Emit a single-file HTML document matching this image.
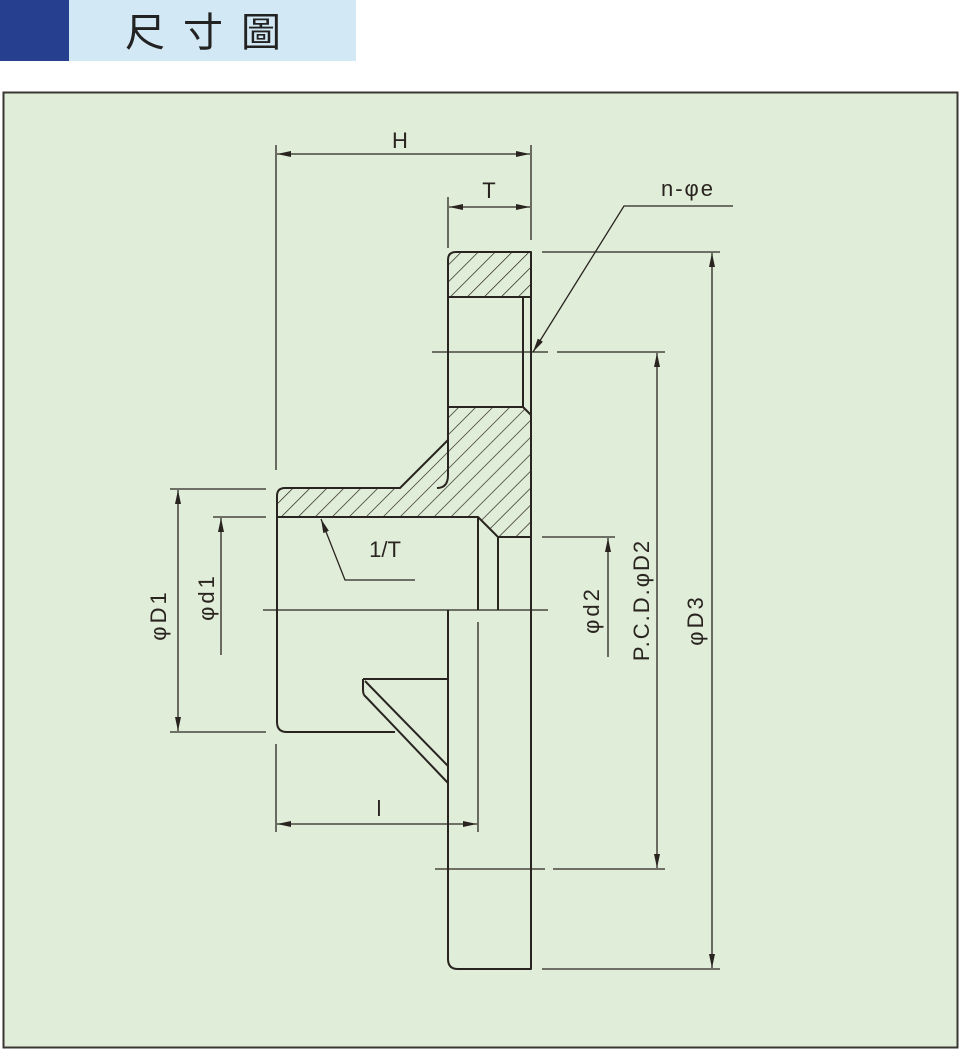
<!DOCTYPE html>
<html><head><meta charset="utf-8"><style>
html,body{margin:0;padding:0;background:#fff;width:960px;height:1050px;overflow:hidden}
</style></head><body>
<svg width="960" height="1050" viewBox="0 0 960 1050" xmlns="http://www.w3.org/2000/svg" style="display:block">
<defs>
<pattern id="h" patternUnits="userSpaceOnUse" width="12" height="12" patternTransform="rotate(45)">
<line x1="0" y1="0" x2="0" y2="12" stroke="#2a2420" stroke-width="1.4"/>
</pattern>
<marker id="a" viewBox="0 0 14 6" refX="14" refY="3" markerWidth="14" markerHeight="6" markerUnits="userSpaceOnUse" orient="auto-start-reverse">
<path d="M0,0 L14,3 L0,6 Z" fill="#2a2420"/>
</marker>
</defs>
<rect x="0" y="0" width="69" height="61" fill="#263f8f"/>
<rect x="69" y="0" width="287" height="61" fill="#d3e8f5"/>
<text x="212" y="46" font-family="'Liberation Sans','Noto Sans CJK TC',sans-serif" font-size="40" fill="#222" text-anchor="middle" letter-spacing="18">尺寸圖</text>
<rect x="3.5" y="92.5" width="954" height="955" fill="#e0edd8" stroke="#3a3632" stroke-width="2"/>
<g fill="none" stroke="#2a2420" stroke-width="2" stroke-linejoin="round">
<path d="M456,252 L531,252 L531,297 L448,297 L448,260 Q448,252 456,252 Z" fill="url(#h)"/>
<path d="M448,407 L523,407 L531,415 L531,537 L498,537 L478,517 L277,517 L277,496 Q277,488 285,488 L400,488 L448,440 Z" fill="url(#h)"/>
<path d="M448,440 L448,475 Q448,488 437,488"/>
<path d="M531,252 L531,969 L458,969 Q448,969 448,959 L448,610"/>
<path d="M448,297 L448,407 M523,297 L523,407"/>
<path d="M478,517 L478,610 M498,537 L498,610"/>
<path d="M277,517 L277,722 Q277,732 287,732 L395,732"/>
<path d="M363,679 L448,679 M363,679 L363,690 Q363,695 366,697 L448,783 M365,681 L448,766"/>
</g>
<g fill="none" stroke="#2a2420" stroke-width="1.3">
<path d="M263,610 L548,610"/>
<path d="M432,352 L548,352 M557,352 L665,352"/>
<path d="M435,869 L545,869 M553,869 L665,869"/>
<path d="M542,252 L720,252 M542,969 L720,969"/>
<path d="M542,537 L615,537"/>
<path d="M170,489 L266,489 M170,732 L266,732 M213,517 L266,517"/>
<path d="M276,145 L276,470 M531,145 L531,240 M448,197 L448,248"/>
<path d="M276,744 L276,832 M478,622 L478,832"/>
<path d="M277,154 L530,154" marker-start="url(#a)" marker-end="url(#a)"/>
<path d="M449,207 L530,207" marker-start="url(#a)" marker-end="url(#a)"/>
<path d="M277,824 L477,824" marker-start="url(#a)" marker-end="url(#a)"/>
<path d="M712,253 L712,968" marker-start="url(#a)" marker-end="url(#a)"/>
<path d="M657,353 L657,868" marker-start="url(#a)" marker-end="url(#a)"/>
<path d="M608,657 L608,538" marker-end="url(#a)"/>
<path d="M178,490 L178,731" marker-start="url(#a)" marker-end="url(#a)"/>
<path d="M221,655 L221,518" marker-end="url(#a)"/>
<path d="M733,206 L624,206 L533,352" marker-end="url(#a)"/>
<path d="M415,580 L345,580 L321,519" marker-end="url(#a)"/>
</g>
<g font-family="'Liberation Sans',sans-serif" fill="#2a2420" font-size="22">
<text x="400" y="148" text-anchor="middle">H</text>
<text x="489" y="198" text-anchor="middle">T</text>
<text x="688" y="196" text-anchor="middle" letter-spacing="2">n-φe</text>
<text x="385" y="557" text-anchor="middle">1/T</text>
<text x="379" y="816" text-anchor="middle">l</text>
<text transform="translate(166,615) rotate(-90)" text-anchor="middle" letter-spacing="3">φD1</text>
<text transform="translate(214,597) rotate(-90)" text-anchor="middle" letter-spacing="3">φd1</text>
<text transform="translate(599,610) rotate(-90)" text-anchor="middle" letter-spacing="3">φd2</text>
<text transform="translate(649,600) rotate(-90)" text-anchor="middle" letter-spacing="2">P.C.D.φD2</text>
<text transform="translate(703,620) rotate(-90)" text-anchor="middle" letter-spacing="3">φD3</text>
</g>
</svg>
</body></html>
